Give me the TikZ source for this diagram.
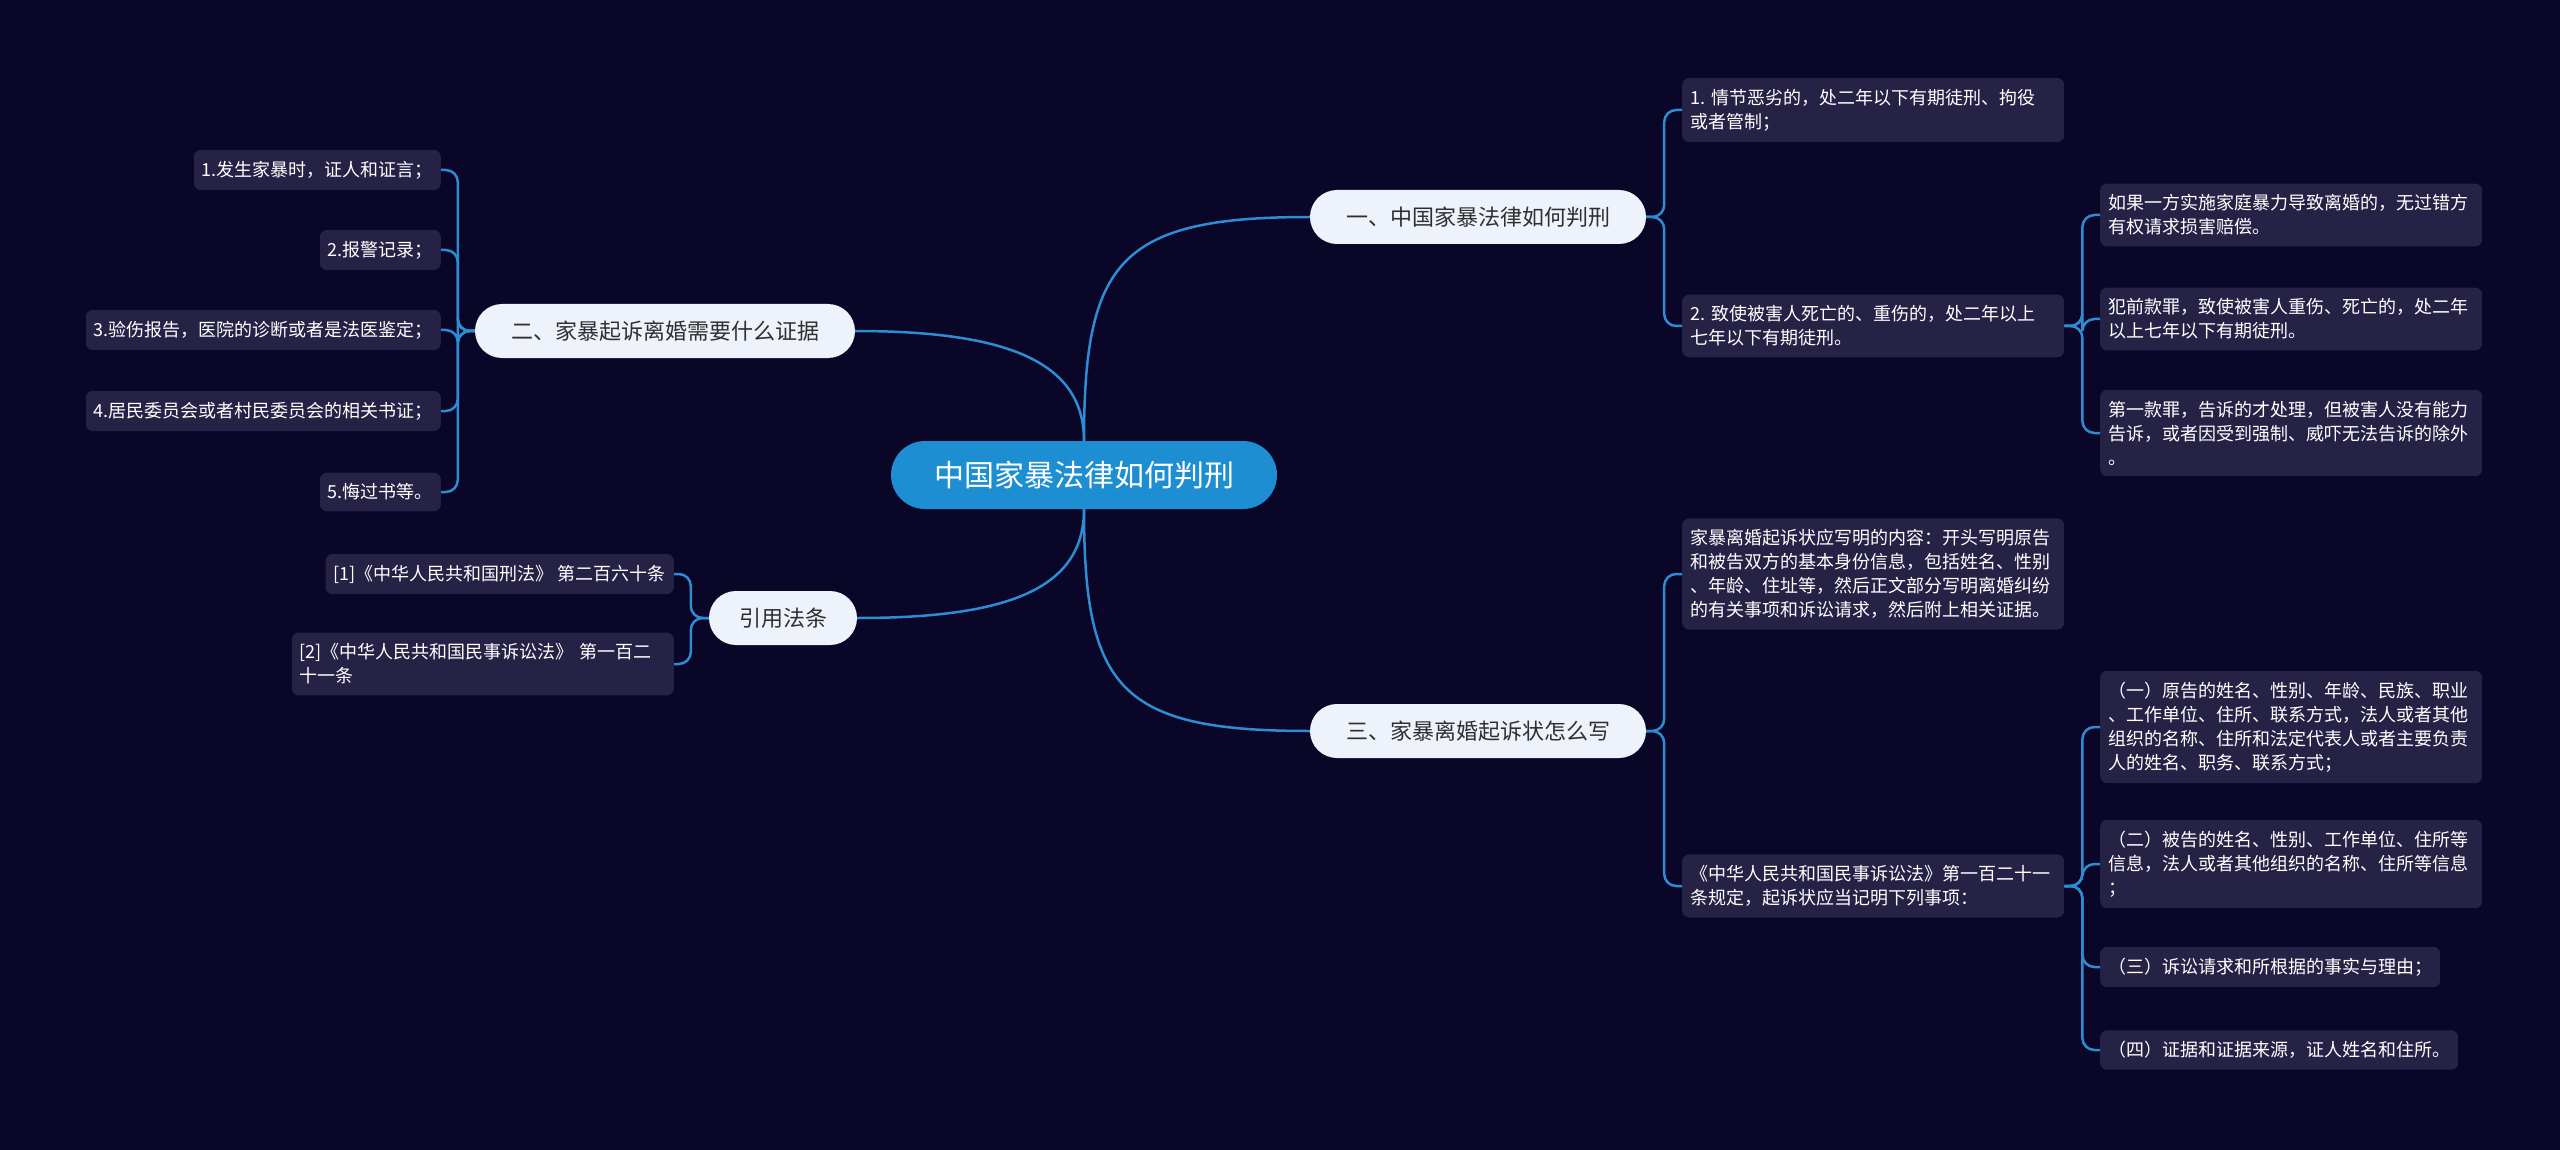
\documentclass[tikz,border=0pt]{standalone}
\usepackage{fontspec}
\usepackage{tikz}
\usetikzlibrary{positioning}
\newfontfamily\cjk{Noto Sans CJK SC}
\definecolor{NightBg}{HTML}{0A0628}
\definecolor{LeafFill}{HTML}{252246}
\definecolor{LinkBlue}{HTML}{2D8CD2}
\definecolor{RootBlue}{HTML}{1E8ED3}
\definecolor{PaleBlue}{HTML}{EEF3FB}
\definecolor{InkGray}{HTML}{2F2F2F}

\begin{document}
\begin{tikzpicture}[x=1pt,y=-1pt, every node/.style={font=\cjk},
rootbox/.style={fill=RootBlue,text=white,rounded corners=34pt,minimum height=68pt,inner xsep=43pt,font=\cjk\fontsize{30}{36}\selectfont},
topic/.style={fill=PaleBlue,text=InkGray,rounded corners=27pt,minimum height=54pt,inner xsep=36pt,font=\cjk\fontsize{22}{26}\selectfont},
leaf/.style={fill=LeafFill,text=white,rounded corners=7pt,inner xsep=8pt,inner ysep=11pt,align=left,font=\cjk\fontsize{18}{24}\selectfont},
wide/.style={leaf,text width=366pt},
link/.style={draw=LinkBlue,line width=2.5pt,rounded corners=12pt}]
\fill[NightBg] (0,0) rectangle (2560,1150);
\useasboundingbox (0,0) rectangle (2560,1150);
\node[rootbox] (root) at (1084,475) {中国家暴法律如何判刑};
\node[topic] (b1) at (1478,217) {一、中国家暴法律如何判刑};
\node[topic] (b2) at (665,331) {二、家暴起诉离婚需要什么证据};
\node[topic] (b3) at (1478,731) {三、家暴离婚起诉状怎么写};
\node[topic,inner xsep=30pt] (b4) at (783,618) {引用法条};
\node[wide,anchor=west] (p1) at (1682,110) {1.~情节恶劣的，处二年以下有期徒刑、拘役\\或者管制；};
\node[wide,anchor=west] (p2) at (1682,326) {2.~致使被害人死亡的、重伤的，处二年以上\\七年以下有期徒刑。};
\node[wide,anchor=west] (p21) at (2100,215) {如果一方实施家庭暴力导致离婚的，无过错方\\有权请求损害赔偿。};
\node[wide,anchor=west] (p22) at (2100,319) {犯前款罪，致使被害人重伤、死亡的，处二年\\以上七年以下有期徒刑。};
\node[wide,anchor=west] (p23) at (2100,433) {第一款罪，告诉的才处理，但被害人没有能力\\告诉，或者因受到强制、威吓无法告诉的除外\\。};
\node[wide,anchor=west] (w1) at (1682,574) {家暴离婚起诉状应写明的内容：开头写明原告\\和被告双方的基本身份信息，包括姓名、性别\\、年龄、住址等，然后正文部分写明离婚纠纷\\的有关事项和诉讼请求，然后附上相关证据。};
\node[wide,anchor=west] (w2) at (1682,886) {《中华人民共和国民事诉讼法》第一百二十一\\条规定，起诉状应当记明下列事项：};
\node[wide,anchor=west] (w21) at (2100,727) {（一）原告的姓名、性别、年龄、民族、职业\\、工作单位、住所、联系方式，法人或者其他\\组织的名称、住所和法定代表人或者主要负责\\人的姓名、职务、联系方式；};
\node[wide,anchor=west] (w22) at (2100,864) {（二）被告的姓名、性别、工作单位、住所等\\信息，法人或者其他组织的名称、住所等信息\\；};
\node[leaf,anchor=west] (w23) at (2100,967) {（三）诉讼请求和所根据的事实与理由；};
\node[leaf,anchor=west] (w24) at (2100,1050) {（四）证据和证据来源，证人姓名和住所。};
\node[leaf,anchor=east] (e1) at (441,170) {1.发生家暴时，证人和证言；};
\node[leaf,anchor=east] (e2) at (441,250) {2.报警记录；};
\node[leaf,anchor=east] (e3) at (441,330) {3.验伤报告，医院的诊断或者是法医鉴定；};
\node[leaf,anchor=east] (e4) at (441,411) {4.居民委员会或者村民委员会的相关书证；};
\node[leaf,anchor=east] (e5) at (441,492) {5.悔过书等。};
\node[leaf,anchor=east] (r1) at (674,574) {[1]《中华人民共和国刑法》~第二百六十条};
\node[wide,anchor=east] (r2) at (674,664) {[2]《中华人民共和国民事诉讼法》~第一百二\\十一条};
\draw[link] (root.north) .. controls +(0,-180) and +(-190,0) .. (b1.west);
\draw[link] (root.north) .. controls +(0,-80) and +(150,0) .. (b2.east);
\draw[link] (root.south) .. controls +(0,180) and +(-190,0) .. (b3.west);
\draw[link] (root.south) .. controls +(0,80) and +(150,0) .. (b4.east);
\foreach \n in {p1,p2} \draw[link] (b1.east) -- ++(18,0) |- (\n.west);
\foreach \n in {p21,p22,p23} \draw[link] (p2.east) -- ++(18,0) |- (\n.west);
\foreach \n in {w1,w2} \draw[link] (b3.east) -- ++(18,0) |- (\n.west);
\foreach \n in {w21,w22,w23,w24} \draw[link] (w2.east) -- ++(18,0) |- (\n.west);
\foreach \n in {e1,e2,e3,e4,e5} \draw[link] (b2.west) -- ++(-17,0) |- (\n.east);
\foreach \n in {r1,r2} \draw[link] (b4.west) -- ++(-18,0) |- (\n.east);
\end{tikzpicture}
\end{document}
